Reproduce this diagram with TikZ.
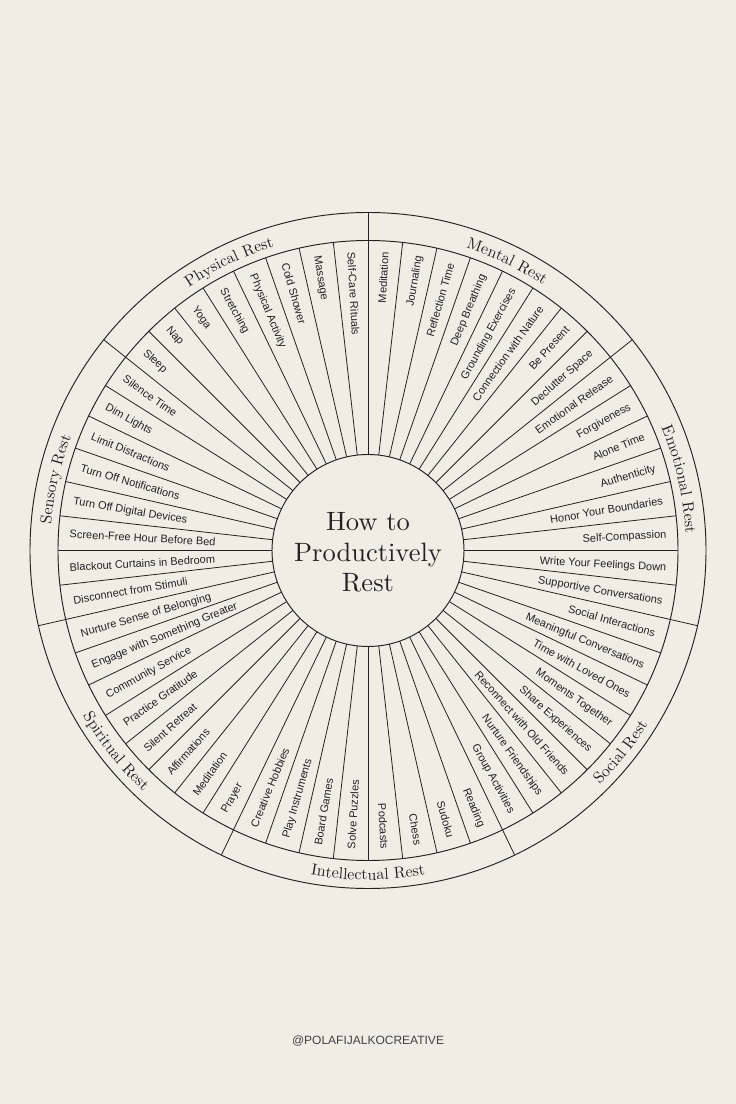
\documentclass[tikz,border=0pt]{standalone}
\usepackage{fontspec}
\newfontfamily\itemfamily{Liberation Sans}
\newfontfamily\serifdesign[Extension=.otf]{lmroman10-regular}
\usetikzlibrary{decorations.text}
\definecolor{bg}{HTML}{F0EDE4}
\definecolor{ink}{HTML}{222222}
\newcommand\catlabelfont{\serifdesign\fontsize{16}{16}\selectfont}
\begin{document}
\begin{tikzpicture}[x=1pt,y=1pt,
  wheel/.style={draw=ink, line width=0.95pt},
  spoke/.style={draw=ink, line width=0.8pt},
  item/.style={font=\itemfamily\fontsize{11}{11}\selectfont, text=ink, inner sep=0pt, text height=8pt, text depth=0pt},
  title/.style={font=\serifdesign\fontsize{26.5}{30}\selectfont, text=ink, inner sep=0pt},
  footer/.style={font=\itemfamily\fontsize{12}{12}\selectfont, text=ink!85, inner sep=0pt},
  cwcat/.style={decorate, decoration={text along path, text={|\catlabelfont|#1}, text align=center, text color=ink}},
  ccwcat/.style={decorate, decoration={text along path, text={|\catlabelfont|#1}, text align=center, text color=ink}}
]
\fill[bg] (0,0) rectangle (736,1104);
\useasboundingbox (0,0) rectangle (736,1104);
\begin{scope}[shift={(368,553.5)}]
  \coordinate (C) at (0,0);
  % circles
  \draw[wheel] (C) circle[radius=96];
  \draw[wheel] (C) circle[radius=310];
  \draw[wheel] (C) circle[radius=338];
  % spokes
  \foreach \k in {0,...,55}{
    \pgfmathsetmacro\spokeang{\k*6.4285714}
    \draw[spoke] (\spokeang:96) -- (\spokeang:310);
  }
  % category boundaries in ring
  \foreach \k in {6,14,22,30,38,46,54}{
    \pgfmathsetmacro\spokeang{\k*6.4285714}
    \draw[spoke] (\spokeang:310) -- (\spokeang:338);
  }
  % items
  \foreach \t [count=\k from 0] in {Self-Compassion, Honor Your Boundaries, Authenticity, Alone Time, Forgiveness, Emotional Release, Declutter Space, Be Present, Connection with Nature, Grounding Exercises, Deep Breathing, Reflection Time, Journaling, Meditation, Self-Care Rituals, Massage, Cold Shower, Physical Activity, Stretching, Yoga, Nap, Sleep, Silence Time, Dim Lights, Limit Distractions, Turn Off Notifications, Turn Off Digital Devices, Screen-Free Hour Before Bed, Blackout Curtains in Bedroom, Disconnect from Stimuli, Nurture Sense of Belonging, Engage with Something Greater, Community Service, Practice Gratitude, Silent Retreat, Affirmations, Meditation, Prayer, Creative Hobbies, Play Instruments, Board Games, Solve Puzzles, Podcasts, Chess, Sudoku, Reading, Group Activities, Nurture Friendships, Reconnect with Old Friends, Share Experiences, Moments Together, Time with Loved Ones, Meaningful Conversations, Social Interactions, Supportive Conversations, Write Your Feelings Down}{
    \pgfmathsetmacro\ang{(\k+0.5)*6.4285714}
    \pgfmathtruncatemacro\isleft{and(\ang>90,\ang<270)}
    \ifnum\isleft=1
      \node[item, rotate=\ang+180, anchor=west] (i\k) at (\ang:299) {\t};
    \else
      \node[item, rotate=\ang, anchor=east] (i\k) at (\ang:299) {\t};
    \fi
  }
  % category labels
  \path[cwcat={Physical Rest}] (141.4286:318) arc[start angle=141.4286, end angle=90, radius=318];
  \path[cwcat={Mental Rest}] (90:318) arc[start angle=90, end angle=38.5714, radius=318];
  \path[cwcat={Sensory Rest}] (192.8571:318) arc[start angle=192.8571, end angle=141.4286, radius=318];
  \path[cwcat={Emotional Rest}] (38.5714:318) arc[start angle=38.5714, end angle=-12.8571, radius=318];
  \path[ccwcat={Spiritual Rest}] (192.8571:329.5) arc[start angle=192.8571, end angle=244.2857, radius=329.5];
  \path[ccwcat={Intellectual Rest}] (244.2857:329.5) arc[start angle=244.2857, end angle=295.7143, radius=329.5];
  \path[ccwcat={Social Rest}] (295.7143:329.5) arc[start angle=295.7143, end angle=347.1429, radius=329.5];
  % title
  \node[title, anchor=base] (t1) at (0,19.5) {How to};
  \node[title, anchor=base] (t2) at (0,-11.2) {Productively};
  \node[title, anchor=base] (t3) at (0,-41.2) {Rest};
\end{scope}
\node[footer, anchor=base] (credit) at (368,59.3) {@POLAFIJALKOCREATIVE};
\end{tikzpicture}
\end{document}
